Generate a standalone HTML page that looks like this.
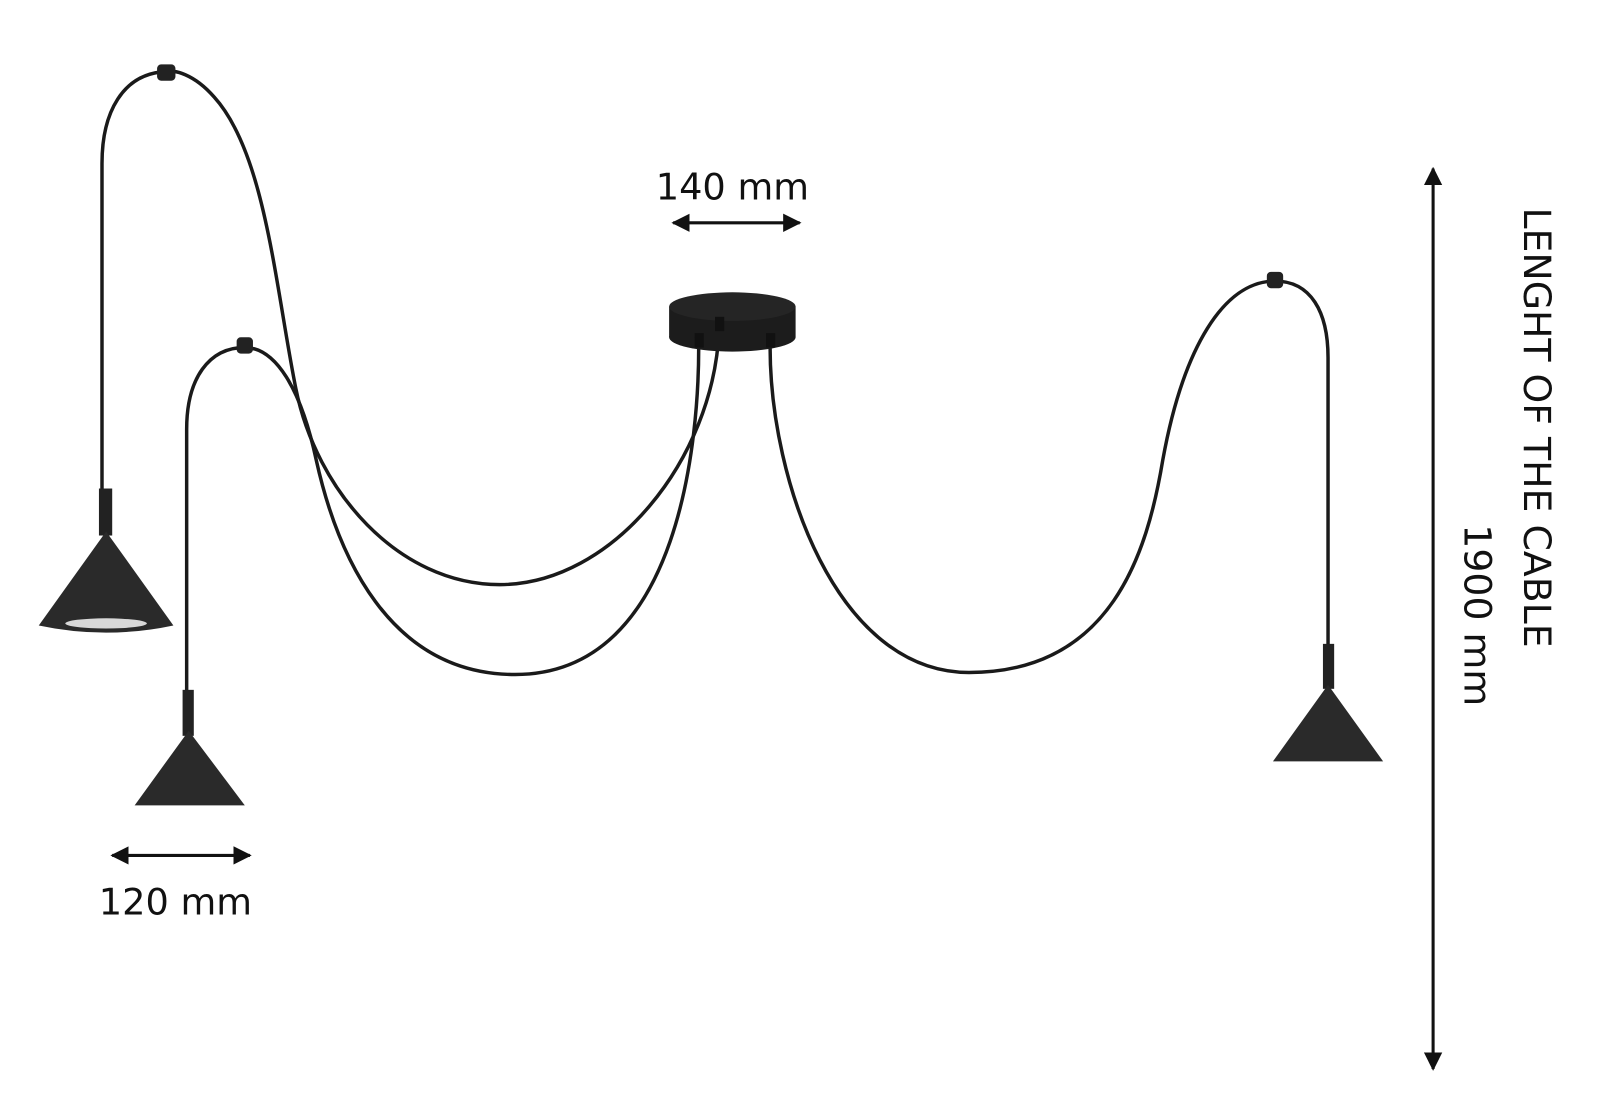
<!DOCTYPE html>
<html><head><meta charset="utf-8"><style>
html,body{margin:0;padding:0;background:#fff;}
svg{display:block}
text{font-family:"DejaVu Sans","Liberation Sans",sans-serif;fill:#111;}
</style></head><body>
<svg width="1600" height="1114" viewBox="0 0 1600 1114" xmlns="http://www.w3.org/2000/svg">
<defs>
<marker id="ah" viewBox="0 0 10 10" refX="9" refY="5" markerWidth="6" markerHeight="6" orient="auto-start-reverse" markerUnits="strokeWidth">
<path d="M0,0 L10,5 L0,10 Z" fill="#111"/></marker>
</defs>
<g transform="scale(1.02,1.022)">
<g fill="none" stroke="#1a1a1a" stroke-width="3.4" stroke-linecap="round">
<path d="M705,322 C700,450 600,572 490,572 C390,572 310,480 290,380 C270,280 260,150 210,95 C190,72 170,68 163,70 C120,72 100,110 100,160 L100,480"/>
<path d="M685,340 C685,420 670,660 505,660 C380,660 330,540 310,450 C295,380 270,340 240,340 C205,340 183,370 183,420 L183,678"/>
<path d="M755,340 C755,470 820,658 950,658 C1090,658 1125,540 1140,450 C1160,340 1200,275 1250,275 C1285,275 1302,305 1302,350 L1302,632"/>
</g>
<ellipse cx="718" cy="330" rx="62" ry="14" fill="#1c1c1c"/>
<rect x="656" y="300" width="124" height="30" fill="#1c1c1c"/>
<ellipse cx="718" cy="300" rx="62" ry="14" fill="#252525"/>
<rect x="681" y="326" width="9" height="14" fill="#111"/>
<rect x="701" y="310" width="9" height="14" fill="#111"/>
<rect x="751" y="326" width="9" height="14" fill="#111"/>
<rect x="154" y="63" width="18" height="16" rx="4" fill="#222"/>
<rect x="232" y="330" width="16" height="16" rx="4" fill="#222"/>
<rect x="1242" y="266" width="16" height="16" rx="4" fill="#222"/>
<rect x="97" y="478" width="13" height="46" fill="#222"/>
<path d="M104,520 L170,612 Q104,626 38,612 Z" fill="#2a2a2a"/>
<ellipse cx="104" cy="610" rx="40" ry="5" fill="#d8d8d8"/>
<rect x="179" y="675" width="11" height="45" fill="#222"/>
<path d="M185,715 L240,788 L132,788 Z" fill="#2a2a2a"/>
<rect x="1297" y="630" width="11" height="44" fill="#222"/>
<path d="M1302,670 L1356,745 L1248,745 Z" fill="#2a2a2a"/>
<g stroke="#111" stroke-width="3">
<line x1="660" y1="218" x2="784" y2="218" marker-start="url(#ah)" marker-end="url(#ah)"/>
<line x1="110" y1="837" x2="245" y2="837" marker-start="url(#ah)" marker-end="url(#ah)"/>
<line x1="1405" y1="165" x2="1405" y2="1046" marker-start="url(#ah)" marker-end="url(#ah)"/>
</g>
<text x="718" y="195" font-size="36" text-anchor="middle">140 mm</text>
<text x="172" y="895" font-size="36" text-anchor="middle">120 mm</text>
<text transform="translate(1494,203) rotate(90)" font-size="37">LENGHT OF THE CABLE</text>
<text transform="translate(1436,513) rotate(90)" font-size="37">1900 mm</text>
</g>
</svg>
</body></html>
